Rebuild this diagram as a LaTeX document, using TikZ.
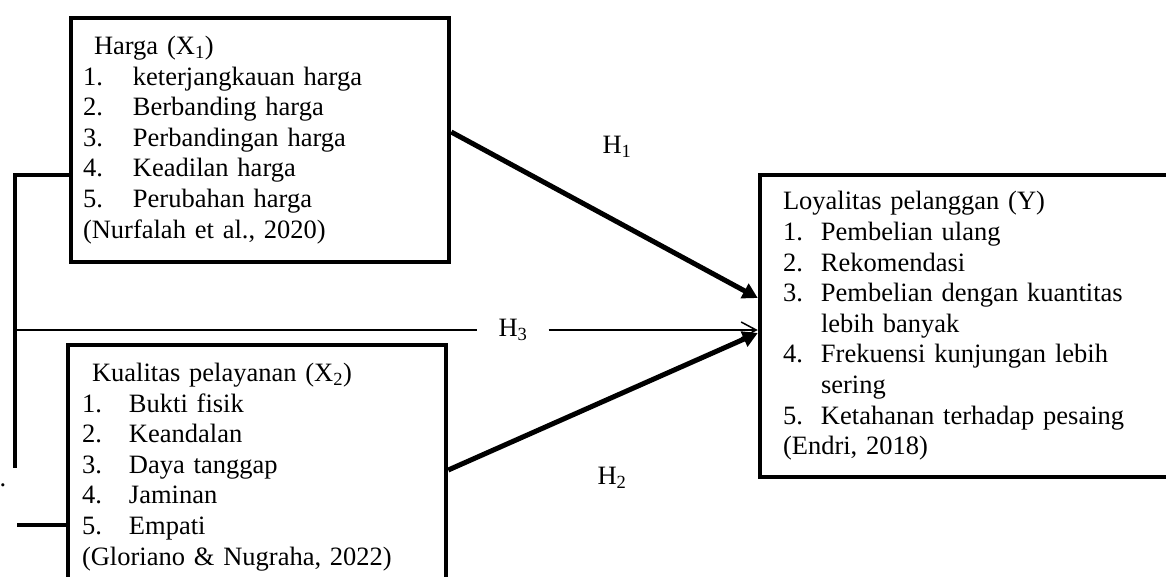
\documentclass[tikz,border=0pt]{standalone}
\usepackage{fontspec}
\setmainfont{Liberation Serif}
\usetikzlibrary{arrows.meta}
\newcommand\rowitem[3]{\makebox[#1][l]{#2}#3}
\begin{document}
\begin{tikzpicture}[x=1pt,y=-1pt,
  boxstyle/.style={draw,line width=4.5pt,rectangle,align=left,inner ysep=0pt,
    font=\fontsize{26.5}{30.6}\selectfont},
  thickarrow/.style={line width=5pt,-{Triangle[length=15pt,width=16pt]}},
  thinarrow/.style={line width=1.5pt,-{Straight Barb[length=15pt,width=16pt]}},
  bracket/.style={line width=4.5pt},
  hlabel/.style={font=\fontsize{26.5}{30.6}\selectfont,inner ysep=0pt}]
\useasboundingbox (0,0) rectangle (1166,576);
\clip (0,0) rectangle (1166,576);
\fill[white] (0,0) rectangle (1166,576);

\node[boxstyle,inner xsep=12pt,text width=354pt,minimum width=378pt,minimum height=244pt] (x1) at (260,140)
 {\hspace{11pt}Harga (X\textsubscript{1})\\
  \rowitem{50pt}{1.}{keterjangkauan harga}\\
  \rowitem{50pt}{2.}{Berbanding harga}\\
  \rowitem{50pt}{3.}{Perbandingan harga}\\
  \rowitem{50pt}{4.}{Keadilan harga}\\
  \rowitem{50pt}{5.}{Perubahan harga}\\
  (Nurfalah et al., 2020)};

\node[boxstyle,inner xsep=14pt,text width=350pt,minimum width=378pt,minimum height=244pt] (x2) at (257,467)
 {\hspace{10pt}Kualitas pelayanan (X\textsubscript{2})\\
  \rowitem{47pt}{1.}{Bukti fisik}\\
  \rowitem{47pt}{2.}{Keandalan}\\
  \rowitem{47pt}{3.}{Daya tanggap}\\
  \rowitem{47pt}{4.}{Jaminan}\\
  \rowitem{47pt}{5.}{Empati}\\
  (Gloriano \& Nugraha, 2022)};

\node[boxstyle,inner xsep=23pt,text width=374pt,minimum width=420pt,minimum height=302pt] (y3) at (970,326)
 {Loyalitas pelanggan (Y)\\
  \rowitem{38pt}{1.}{Pembelian ulang}\\
  \rowitem{38pt}{2.}{Rekomendasi}\\
  \rowitem{38pt}{3.}{Pembelian dengan kuantitas}\\
  \hspace*{38pt}lebih banyak\\
  \rowitem{38pt}{4.}{Frekuensi kunjungan lebih}\\
  \hspace*{38pt}sering\\
  \rowitem{38pt}{5.}{Ketahanan terhadap pesaing}\\
  (Endri, 2018)};

% left bracket
\coordinate (bt) at (15,175);
\coordinate (bb) at (15,468);
\coordinate (bl) at (17,525);
\coordinate (h3s) at (15,330);
\draw[bracket] (x1.west |- bt) -- (bt) -- (bb);
\draw[bracket] (bl) -- (bl -| x2.west);
\node[font=\fontsize{26.5}{30.6}\selectfont,inner sep=0pt,anchor=base] (dot) at (3,486) {.};

% H3
\node[hlabel,inner xsep=21pt] (h3) at (513,330) {H\textsubscript{3}};
\draw[line width=1.5pt] (h3s) -- (h3.west |- h3s);
\draw[thinarrow] (h3.east |- h3s) -- ([yshift=-4pt]y3.west);

% H1, H2
\draw[thickarrow] ([yshift=8pt]x1.east) -- ([yshift=28pt]y3.west);
\draw[thickarrow] ([yshift=-3pt]x2.east) -- ([yshift=-7pt]y3.west);
\node[hlabel] (h1) at (617,147) {H\textsubscript{1}};
\node[hlabel] (h2) at (612,478) {H\textsubscript{2}};
\end{tikzpicture}
\end{document}
